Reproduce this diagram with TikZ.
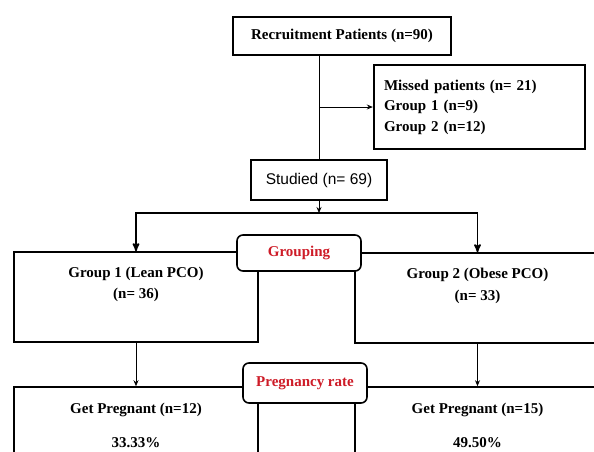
\documentclass[tikz,border=0pt]{standalone}
\usepackage{fontspec}
\setmainfont{Liberation Serif}
\setsansfont{Liberation Sans}
\usepackage{xcolor}
\usepackage{tikz}
\usetikzlibrary{arrows,arrows.meta,positioning}
\definecolor{tagred}{RGB}{206,28,40}

\begin{document}
\begin{tikzpicture}[
x=1pt, y=-1pt,
box/.style={
rectangle,
draw,
line width=1.6pt,
inner sep=0pt,
font=\bfseries\fontsize{15}{18}\selectfont
},
tag/.style={
rectangle,
rounded corners=6pt,
draw,
line width=1.6pt,
fill=white,
inner sep=0pt,
text=tagred,
font=\bfseries\fontsize{15}{18}\selectfont
},
link/.style={
line width=0.8pt
},
arrow/.style={
-{Stealth[length=6pt,width=5pt]},
line width=0.8pt
},
bigarrow/.style={
<->,
>=stealth',
line width=1.7pt
}
]
\clip (0,0) rectangle (594,451);

% Boxes
\node[box, line width=2.4pt, minimum width=218pt, minimum height=38pt] (recruit-patients) at (342,36) {Recruitment Patients (n=90)};
\node[box, line width=2.4pt, minimum height=84pt, text width=191pt, inner xsep=10pt, align=left,
font=\bfseries\fontsize{15}{20.5}\selectfont] (missed-patients) at (479.5,107) {Missed patients (n= 21)\\Group 1 (n=9)\\Group 2 (n=12)};
\node[box, minimum width=136pt, minimum height=40pt, font=\sffamily\fontsize{15.5}{18}\selectfont] (studied) at (319,180) {Studied (n= 69)};
\node[box, minimum width=244pt, minimum height=90pt, font=\bfseries\fontsize{15}{21.5}\selectfont] (group-lean) at (136,297)
{\parbox[c][90pt][t]{244pt}{\centering\rule{0pt}{25pt}Group 1 (Lean PCO)\\(n= 36)}};
\node[box, minimum width=245pt, minimum height=90pt, font=\bfseries\fontsize{15}{22}\selectfont] (group-obese) at (477.5,298)
{\parbox[c][90pt][t]{245pt}{\centering\rule{0pt}{25pt}Group 2 (Obese PCO)\\(n= 33)}};
\node[box, minimum width=244pt, minimum height=80pt, font=\bfseries\fontsize{15}{34}\selectfont] (pregnant-lean) at (136,427)
{\parbox[c][80pt][t]{244pt}{\centering\rule{0pt}{26pt}Get Pregnant (n=12)\\33.33\%}};
\node[box, minimum width=245pt, minimum height=80pt, font=\bfseries\fontsize{15}{34}\selectfont] (pregnant-obese) at (477.5,427)
{\parbox[c][80pt][t]{245pt}{\centering\rule{0pt}{26pt}Get Pregnant (n=15)\\49.50\%}};

% Connections
\coordinate (fork) at (319,213);
\draw[link] (recruit-patients.south -| studied.north) -- (studied.north);
\draw[arrow] (studied.north |- missed-patients.west) -- (missed-patients.west);
\draw[arrow] (studied.south) -- (fork);
\draw[bigarrow] (group-lean.north) -- (group-lean.north |- fork) -- (group-obese.north |- fork) -- (group-obese.north);
\draw[arrow] (group-lean.south) -- (pregnant-lean.north);
\draw[arrow] (group-obese.south) -- (pregnant-obese.north);

% Labels
\node[tag, minimum width=124pt, minimum height=36pt] (grouping) at (299,253) {Grouping};
\node[tag, minimum width=124pt, minimum height=40pt] (pregnancy-rate) at (305,383) {Pregnancy rate};
\end{tikzpicture}
\end{document}
